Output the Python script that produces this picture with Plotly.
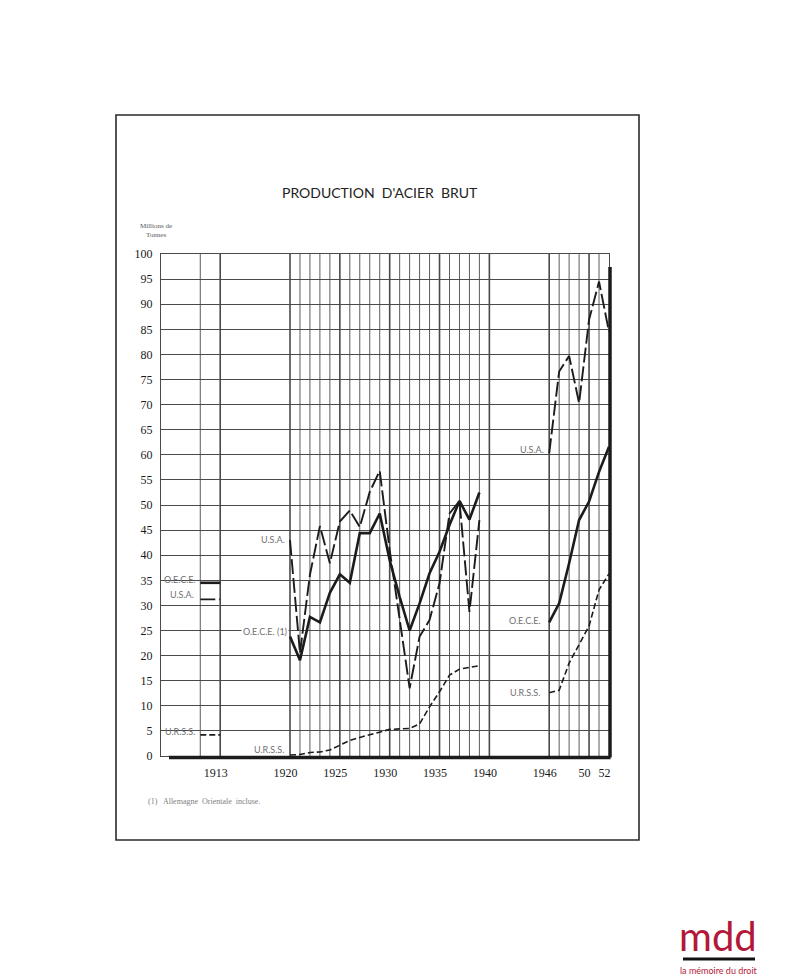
import plotly.graph_objects as go

# production d'acier brut, millions de tonnes
BLOCK_1913 = [1911, 1913]
OECE_1913 = 34.5
USA_1913 = 31.2
URSS_1913 = 4.2

YEARS_A = list(range(1920, 1940))
OECE_A = [23.8, 19.1, 27.7, 26.6, 32.5, 36.2, 34.5, 44.4, 44.4, 48.3,
          39.0, 31.7, 25.0, 30.4, 36.4, 40.7, 46.0, 50.8, 47.1, 52.5]
USA_A = [43.0, 20.5, 36.1, 45.8, 38.4, 46.7, 48.9, 45.6, 52.6, 56.8,
         41.0, 27.7, 13.5, 23.8, 27.1, 34.4, 48.3, 50.8, 28.7, 47.0]
URSS_A = [0.2, 0.3, 0.7, 0.8, 1.2, 2.2, 3.1, 3.7, 4.2, 4.8,
          5.3, 5.4, 5.5, 6.4, 9.8, 12.8, 16.1, 17.3, 17.6, 18.0]

YEARS_B = list(range(1946, 1953))
OECE_B = [26.6, 30.4, 38.4, 47.0, 50.7, 56.6, 61.6]
USA_B = [60.3, 76.6, 79.7, 70.3, 86.9, 94.5, 84.5]
URSS_B = [12.6, 13.1, 18.5, 22.1, 25.9, 33.1, 36.3]

GRID_YEARS = [1911, 1913] + list(range(1920, 1941)) + list(range(1946, 1952))
MAJOR_YEARS = [1913, 1920, 1925, 1930, 1935, 1940, 1946, 1950]
TICK_YEARS = [1913, 1920, 1925, 1930, 1935, 1940, 1946, 1950, 1952]
TICK_TEXT = ["1913", "1920", "1925", "1930", "1935", "1940", "1946", "50", "52"]

W, H = 800, 976
L, R, T, B = 161, 191, 254, 220
PW, PH = W - L - R, H - T - B

def px(x):
    return (x - L) / PW

def py(y):
    return (H - B - y) / PH

INK = "#1c1c1c"
GRID = "#4a4a4a"
LABEL = "#707070"
RED = "#b3173a"

fig = go.Figure()

# vertical rulings
for major in (False, True):
    xs, ys = [], []
    for yr in GRID_YEARS:
        if (yr in MAJOR_YEARS) == major:
            xs += [yr, yr, None]
            ys += [0, 100, None]
    fig.add_trace(go.Scatter(x=xs, y=ys, mode="lines", hoverinfo="skip",
                             line=dict(color=GRID, width=1.6 if major else 0.9)))

styles = {
    "OECE": dict(color=INK, width=2.6),
    "USA": dict(color=INK, width=1.9, dash="15px,4px"),
    "URSS": dict(color=INK, width=1.6, dash="6px,3px"),
}

for name, v13, va, vb in [("OECE", OECE_1913, OECE_A, OECE_B),
                          ("USA", USA_1913, USA_A, USA_B),
                          ("URSS", URSS_1913, URSS_A, URSS_B)]:
    fig.add_trace(go.Scatter(x=BLOCK_1913, y=[v13] * len(BLOCK_1913), mode="lines",
                             line=styles[name], hoverinfo="skip"))
    fig.add_trace(go.Scatter(x=YEARS_A, y=va, mode="lines", line=styles[name], name=name))
    fig.add_trace(go.Scatter(x=YEARS_B, y=vb, mode="lines", line=styles[name], name=name))

lab_font = dict(family="Lato", size=9, color=LABEL)
labels = [
    ("O.E.C.E.", 1910.8, 35.1), ("U.S.A.", 1910.6, 32.1), ("U.R.S.S.", 1910.7, 4.8),
    ("U.S.A.", 1919.7, 43.2), ("U.R.S.S.", 1919.6, 1.2),
    ("U.S.A.", 1945.7, 61.0), ("O.E.C.E.", 1945.4, 26.9), ("U.R.S.S.", 1945.3, 12.7),
]
for txt, x, y in labels:
    fig.add_annotation(x=x, y=y, text=txt, showarrow=False, xanchor="right",
                       yanchor="middle", font=lab_font)
fig.add_annotation(x=1919.85, y=24.9, text="O.E.C.E. (1)", showarrow=False, xanchor="right",
                   yanchor="middle", font=lab_font, bgcolor="white", borderpad=1)

# ombre portée du cadre
fig.add_shape(type="line", xref="paper", yref="paper", x0=px(169), x1=px(610.5),
              y0=py(757.5), y1=py(757.5), line=dict(color=INK, width=3.5))
fig.add_shape(type="line", xref="paper", yref="paper", x0=px(610), x1=px(610),
              y0=py(757.5), y1=py(267), line=dict(color=INK, width=3.5))

# cadre de la page
fig.add_shape(type="rect", xref="paper", yref="paper", x0=px(116), x1=px(639),
              y0=py(840), y1=py(115), line=dict(color="#2a2a2a", width=1.6))

def note(x, y, text, font, **kw):
    kw.setdefault("xanchor", "center")
    fig.add_annotation(xref="paper", yref="paper", x=px(x), y=py(y), text=text,
                       showarrow=False, yanchor="middle", font=font, **kw)

note(380, 192, "PRODUCTION  D'ACIER  BRUT", dict(family="Lato", size=14, color="#222"))
note(156, 230, "Millions de<br>Tonnes", dict(family="Liberation Serif", size=7, color="#555"))
note(146, 801, "(1)   Allemagne  Orientale  incluse.",
     dict(family="Liberation Serif", size=8, color="#808080"), xanchor="left")

# logo
note(718, 936, "mdd", dict(family="Lato", size=40, color=RED))
fig.add_shape(type="line", xref="paper", yref="paper", x0=px(683), x1=px(755),
              y0=py(959), y1=py(959), line=dict(color="#111", width=3))
note(719, 970, "la mémoire du droit", dict(family="Lato", size=9, color=RED))

tick_font = dict(family="Liberation Serif", size=12, color="#1a1a1a")
fig.update_layout(
    width=W, height=H, margin=dict(l=L, r=R, t=T, b=B),
    paper_bgcolor="white", plot_bgcolor="white", showlegend=False,
    xaxis=dict(range=[1907.06, 1952], tickvals=[t - 0.45 for t in TICK_YEARS],
               ticktext=TICK_TEXT, showgrid=False, zeroline=False,
               showline=True, mirror=True, linecolor=GRID, linewidth=1,
               ticks="outside", ticklen=6, tickcolor="rgba(0,0,0,0)", tickfont=tick_font),
    yaxis=dict(range=[0, 100], dtick=5, showgrid=True, gridcolor=GRID, gridwidth=1,
               zeroline=False, showline=True, mirror=True, linecolor=GRID, linewidth=1,
               ticks="outside", ticklen=5, tickcolor="rgba(0,0,0,0)", tickfont=tick_font),
)

fig.write_html("out.html", config={"displayModeBar": False},
               post_script="document.body.style.margin='0';")
